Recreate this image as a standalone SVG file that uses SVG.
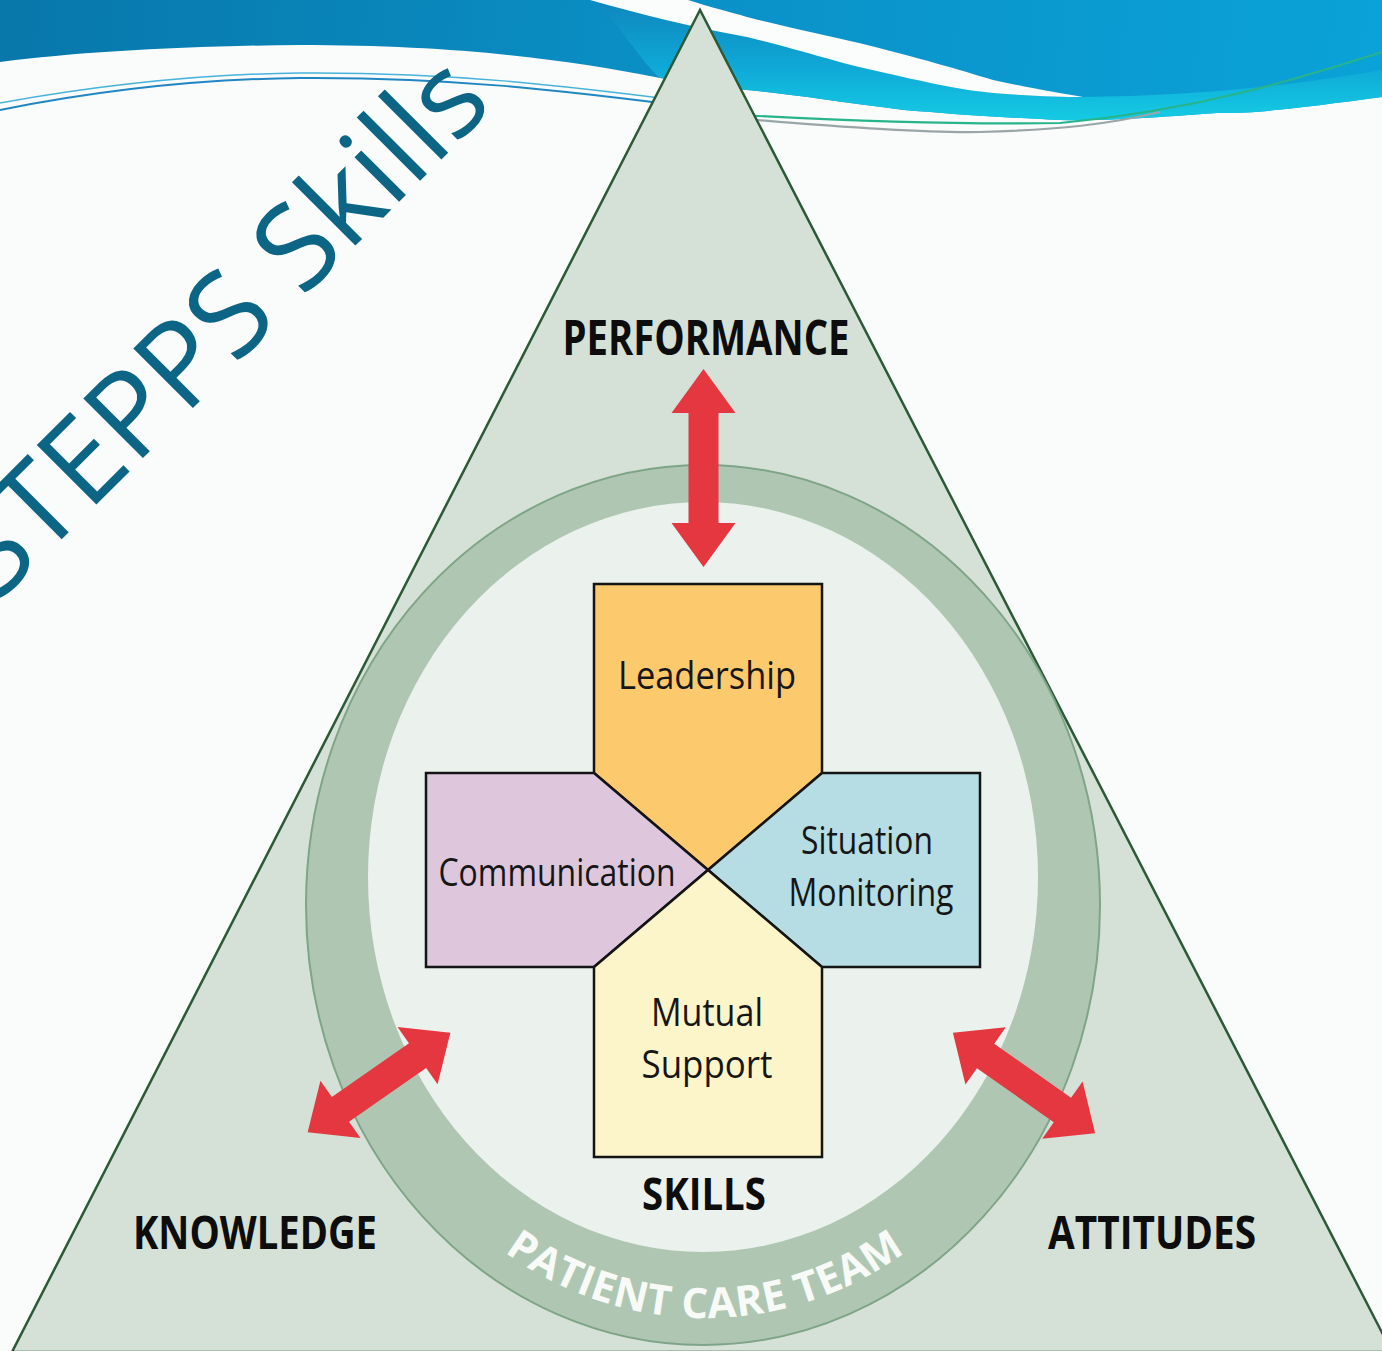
<svg xmlns="http://www.w3.org/2000/svg" width="1382" height="1351" viewBox="0 0 1382 1351">
  <defs>
    <linearGradient id="skyGrad" x1="0" y1="0" x2="1382" y2="120" gradientUnits="userSpaceOnUse">
      <stop offset="0" stop-color="#0877aa"/>
      <stop offset="0.55" stop-color="#0a93c9"/>
      <stop offset="1" stop-color="#0aa2d8"/>
    </linearGradient>
    <linearGradient id="bandGrad" x1="0" y1="0" x2="0" y2="1">
      <stop offset="0" stop-color="#0e86bd"/>
      <stop offset="0.55" stop-color="#0fa8d6"/>
      <stop offset="1" stop-color="#15cbe3"/>
    </linearGradient>
    <path id="teamArc" d="M 335,905 A 370 413 0 0 0 1075,905"/>
    <!-- double-headed arrow shapes, centred on the origin and pointing along x -->
    <polygon id="arrowLong" points="-99,0 -55,-32 -55,-15 55,-15 55,-32 99,0 55,32 55,15 -55,15 -55,32"/>
    <polygon id="arrowShort" points="-87,0 -47,-35 -47,-15 47,-15 47,-35 87,0 47,35 47,15 -47,15 -47,35"/>
  </defs>
  <style>
    .label { font-family: "Open Sans", "Liberation Sans", sans-serif; font-weight: 700; fill: #0d0d0d; }
    .skill { font-family: "Open Sans", "Liberation Sans", sans-serif; font-weight: 400; fill: #161616; font-size: 38px; }
    .piece { stroke: #141414; stroke-width: 2.5; stroke-linejoin: miter; }
    .arrow { fill: #e4373f; }
  </style>

  <!-- page background -->
  <rect x="0" y="0" width="1382" height="1351" fill="#fafbfb"/>

  <!-- header waves -->
  <g id="header">
    <path d="M0,0 H1382 V97 C1300,108 1250,114 1217,113 C1150,118 1100,121 1060,120 C990,117 940,113 904,110 C840,102 790,94 747,90 C710,86 690,82 660,78 C560,58 450,45 300,45 C180,46 80,52 0,62 Z" fill="url(#skyGrad)"/>
    <path d="M594,0 C640,14 690,27 747,37 C800,50 830,60 859,67 C920,81 960,90 993,93 C1030,96 1060,97 1083,97 C1180,96 1280,88 1382,70 V97 C1300,108 1250,114 1217,113 C1150,118 1100,121 1060,120 C990,117 940,113 904,110 C840,102 790,94 747,90 C710,86 690,82 660,78 C640,60 620,25 594,0 Z" fill="url(#bandGrad)"/>
    <path d="M590,0 L688,0 C710,7 730,12 747,17 C790,28 830,36 859,43 C920,58 960,70 993,80 C1030,88 1060,93 1083,97 C1060,97 1030,96 993,93 C960,90 920,81 859,67 C830,60 800,50 747,37 C690,27 640,14 590,0 Z" fill="#fbfcfc"/>
    <path d="M0,110 C100,90 200,79 300,78 C450,77 560,90 700,108" fill="none" stroke="#1f86c2" stroke-width="2"/>
    <path d="M0,103 C100,85 200,74 300,73 C450,72 560,85 700,103" fill="none" stroke="#47b3da" stroke-width="1.5"/>
    <path d="M740,115 C850,121 950,125 1060,123 C1200,110 1300,78 1382,52" fill="none" stroke="#27b48a" stroke-width="2.2"/>
    <path d="M745,119 C850,128 930,133 980,132 C1060,130 1110,124 1160,112" fill="none" stroke="#9aa5a8" stroke-width="2.2"/>
  </g>

  <!-- title -->
  <text id="title" x="495" y="106" transform="rotate(-45 495 106)" text-anchor="end" font-family="'Open Sans', 'Liberation Sans', sans-serif" font-size="118" fill="#0d6585">STEPPS Skills</text>

  <!-- outer triangle -->
  <g id="triangle">
    <polygon points="700,10 12,1352 1392,1352" fill="#d5e1d7" stroke="#2c5a37" stroke-width="2.5" stroke-linejoin="miter"/>
  </g>

  <!-- patient care team ring -->
  <g id="ring">
    <ellipse cx="703" cy="905" rx="397" ry="440" fill="#afc7b2" stroke="#7fa487" stroke-width="2"/>
    <ellipse cx="703" cy="877" rx="335" ry="375" fill="#ebf1ec"/>
    <text font-family="'Open Sans', 'Liberation Sans', sans-serif" font-weight="700" font-size="42" fill="#f7faf7" letter-spacing="0.5">
      <textPath href="#teamArc" startOffset="50%" text-anchor="middle">PATIENT CARE TEAM</textPath>
    </text>
  </g>

  <!-- outcome labels -->
  <g id="performance"><text class="label" x="706" y="355" font-size="48" text-anchor="middle" textLength="287" lengthAdjust="spacingAndGlyphs">PERFORMANCE</text></g>
  <g id="knowledge"><text class="label" x="255" y="1249" font-size="47" text-anchor="middle" textLength="244" lengthAdjust="spacingAndGlyphs">KNOWLEDGE</text></g>
  <g id="attitudes"><text class="label" x="1152" y="1249" font-size="47" text-anchor="middle" textLength="208" lengthAdjust="spacingAndGlyphs">ATTITUDES</text></g>
  <g id="skills-label"><text class="label" x="704" y="1210" font-size="45" text-anchor="middle" textLength="124" lengthAdjust="spacingAndGlyphs">SKILLS</text></g>

  <!-- the four skill pieces -->
  <g id="leadership">
    <polygon class="piece" points="594,584 822,584 822,773 708,870 594,773" fill="#fdc96d"/>
    <text class="skill" x="707" y="689" text-anchor="middle" textLength="178" lengthAdjust="spacingAndGlyphs">Leadership</text>
  </g>
  <g id="communication">
    <polygon class="piece" points="426,773 594,773 708,870 594,967 426,967" fill="#dec7dc"/>
    <text class="skill" x="557" y="886" text-anchor="middle" textLength="237" lengthAdjust="spacingAndGlyphs">Communication</text>
  </g>
  <g id="situation-monitoring">
    <polygon class="piece" points="822,773 980,773 980,967 822,967 708,870" fill="#b5dde3"/>
    <text class="skill" x="867" y="854" text-anchor="middle" textLength="132" lengthAdjust="spacingAndGlyphs">Situation</text>
    <text class="skill" x="871" y="906" text-anchor="middle" textLength="165" lengthAdjust="spacingAndGlyphs">Monitoring</text>
  </g>
  <g id="mutual-support">
    <polygon class="piece" points="594,967 708,870 822,967 822,1157 594,1157" fill="#fcf5c9"/>
    <text class="skill" x="707" y="1026" text-anchor="middle" textLength="112" lengthAdjust="spacingAndGlyphs">Mutual</text>
    <text class="skill" x="707" y="1078" text-anchor="middle" textLength="131" lengthAdjust="spacingAndGlyphs">Support</text>
  </g>

  <!-- connectors: two-way arrows between skills and outcomes -->
  <g id="connectors">
    <use href="#arrowLong" class="arrow" transform="translate(703.5 468) rotate(90)"/>
    <use href="#arrowShort" class="arrow" transform="translate(379 1082.5) rotate(-34.9)"/>
    <use href="#arrowShort" class="arrow" transform="translate(1024 1083) rotate(35.2)"/>
  </g>
</svg>
